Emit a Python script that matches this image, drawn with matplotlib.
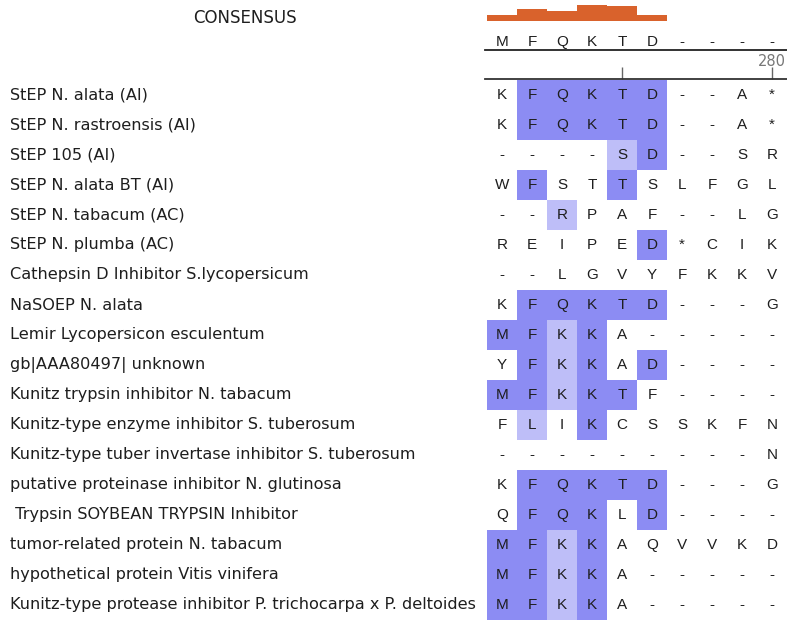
import matplotlib
matplotlib.use("Agg")
import matplotlib.pyplot as plt
from matplotlib.patches import Rectangle
from matplotlib.transforms import blended_transform_factory, offset_copy

plt.rcParams['font.family'] = ['Liberation Sans', 'DejaVu Sans']

# Sequence names (top to bottom)
names = [
    "StEP N. alata (AI)",
    "StEP N. rastroensis (AI)",
    "StEP 105 (AI)",
    "StEP N. alata BT (AI)",
    "StEP N. tabacum (AC)",
    "StEP N. plumba (AC)",
    "Cathepsin D Inhibitor S.lycopersicum",
    "NaSOEP N. alata",
    "Lemir Lycopersicon esculentum",
    "gb|AAA80497| unknown",
    "Kunitz trypsin inhibitor N. tabacum",
    "Kunitz-type enzyme inhibitor S. tuberosum",
    "Kunitz-type tuber invertase inhibitor S. tuberosum",
    "putative proteinase inhibitor N. glutinosa",
    " Trypsin SOYBEAN TRYPSIN Inhibitor",
    "tumor-related protein N. tabacum",
    "hypothetical protein Vitis vinifera",
    "Kunitz-type protease inhibitor P. trichocarpa x P. deltoides",
]

# Aligned residues, one string per sequence
sequences = [
    "KFQKTD--A*",
    "KFQKTD--A*",
    "----SD--SR",
    "WFSTTSLFGL",
    "--RPAF--LG",
    "REIPED*CIK",
    "--LGVYFKKV",
    "KFQKTD---G",
    "MFKKA-----",
    "YFKKAD----",
    "MFKKTF----",
    "FLIKCSSKFN",
    "---------N",
    "KFQKTD---G",
    "QFQKLD----",
    "MFKKAQVVKD",
    "MFKKA-----",
    "MFKKA-----",
]

# Shading level per cell: 0 none, 1 light, 2 strong
shading = [
    "0222220000",
    "0222220000",
    "0000120000",
    "0200200000",
    "0010000000",
    "0000020000",
    "0000000000",
    "0222220000",
    "2212000000",
    "0212020000",
    "2212200000",
    "0102000000",
    "0000000000",
    "0222220000",
    "0222020000",
    "2212000000",
    "2212000000",
    "2212000000",
]

consensus = "MFQKTD----"
conservation = [0.33, 0.67, 0.56, 0.89, 0.83, 0.33, 0, 0, 0, 0]
first_residue = 271
ruler_ticks = [275, 280]
ruler_labels = ["", "280"]

shade_colors = {1: "#bebef8", 2: "#8c8cf3"}
bar_color = "#d9622c"
text_color = "#1e1e1e"
label_font = ['DejaVu Sans']

W, H = 787, 620
fig = plt.figure(figsize=(W / 100, H / 100), dpi=100)

ncol = len(consensus)
nrow = len(sequences)
x0, x1 = 487, 787
grid_top = 80


def fig_rect(left, top, right, bottom):
    return [left / W, 1 - bottom / H, (right - left) / W, (bottom - top) / H]


# Alignment grid
ax = fig.add_axes(fig_rect(x0, grid_top, x1, H))
ax.set_xlim(-0.5, ncol - 0.5)
ax.set_ylim(nrow - 0.5, -0.5)
ax.axis("off")
for r, (seq, shade) in enumerate(zip(sequences, shading)):
    for c, (aa, lvl) in enumerate(zip(seq, shade)):
        lvl = int(lvl)
        if lvl:
            ax.add_patch(Rectangle((c - 0.5, r - 0.5), 1, 1,
                                   facecolor=shade_colors[lvl], edgecolor="none"))
        ax.text(c, r, aa, ha="center", va="center", fontsize=11,
                color=text_color)

# Sequence names
name_tr = blended_transform_factory(fig.transFigure, ax.transData)
for r, name in enumerate(names):
    ax.text(10 / W, r, name, transform=name_tr, family=label_font,
            ha="left", va="center", fontsize=11.65, color=text_color)

# Conservation histogram
axc = fig.add_axes(fig_rect(x0, 3, x1, 21))
axc.set_xlim(-0.5, ncol - 0.5)
axc.set_ylim(0, 1)
axc.axis("off")
axc.bar(range(ncol), conservation, width=1.0, color=bar_color, edgecolor="none")

fig.text(245 / W, 1 - 18 / H, "CONSENSUS", ha="center", va="center",
         family=label_font, fontsize=12, color=text_color)

# Consensus letters and position ruler
axr = fig.add_axes(fig_rect(x0 - 2, 49.5, x1, 79))
axr.set_xlim(first_residue - 0.5 - 2 / 30, first_residue + ncol - 0.5)
axr.set_ylim(0, 1)
for s in ("left", "right"):
    axr.spines[s].set_visible(False)
axr.spines["top"].set_linewidth(1.3)
axr.spines["bottom"].set_linewidth(1.3)
axr.spines["top"].set_color("#222222")
axr.spines["bottom"].set_color("#333333")
axr.set_yticks([])
axr.set_xticks(ruler_ticks)
axr.set_xticklabels([])
axr.tick_params(axis="x", direction="in", length=9, width=1, color="#666666",
                pad=2)
letter_tr = offset_copy(axr.transData, fig=fig, y=0.5, units="points")
for i, aa in enumerate(consensus):
    axr.text(first_residue + i, 1.0, aa, ha="center", va="bottom",
             fontsize=11, color=text_color, transform=letter_tr)
for t, lab in zip(ruler_ticks, ruler_labels):
    if lab:
        axr.text(t, 0.6, lab, ha="center", va="center", family=label_font,
                 fontsize=10.5, color="#777777")

fig.savefig("out.png", dpi=100)
